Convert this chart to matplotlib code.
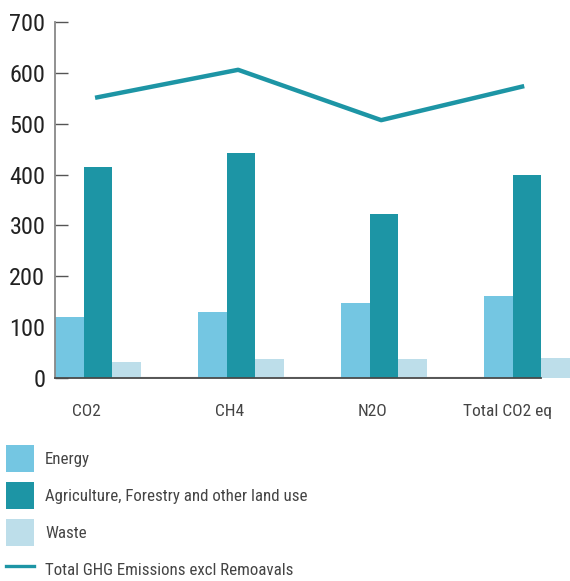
import matplotlib
matplotlib.use("Agg")
import matplotlib.pyplot as plt
from matplotlib.patches import Patch
from matplotlib.lines import Line2D
import numpy as np

plt.rcParams['font.family'] = ['Roboto Condensed', 'Liberation Sans', 'DejaVu Sans']

categories = ["CO2", "CH4", "N2O", "Total CO2 eq"]
energy = [120, 130, 147, 161]
agriculture = [415, 442, 322, 399]
waste = [31, 37, 37, 39]
total_excl_removals = [551, 606, 507, 574]
y_ticks = [0, 100, 200, 300, 400, 500, 600, 700]

c_energy = "#74c6e2"
c_agri = "#1d95a5"
c_waste = "#bddeea"

W, H = 570, 581
fig = plt.figure(figsize=(W / 100, H / 100), dpi=100)
ax = fig.add_axes([55 / W, 1 - 378 / H, 515 / W, 356 / H])

x = np.arange(len(categories))
bw = 0.2
ax.bar(x + bw * 0.5, energy, width=bw, color=c_energy, zorder=2)
ax.bar(x + bw * 1.5, agriculture, width=bw, color=c_agri, zorder=2)
ax.bar(x + bw * 2.5, waste, width=bw, color=c_waste, zorder=2)
ax.plot(x + 0.28, total_excl_removals, color=c_agri, lw=3.2, solid_capstyle='butt', zorder=3)

# baseline at zero
ax.plot([0, 3.4], [1.2, 1.2], color="#d8d8d8", lw=1.0, zorder=1, clip_on=False)
ax.plot([0, 3.4], [-0.6, -0.6], color="#4a4a4a", lw=1.3, zorder=4, clip_on=False)

ax.set_xlim(0, 3.6)
ax.set_ylim(0, 700)
ax.set_yticks(y_ticks)
ax.tick_params(axis='y', direction='in', length=9.4, width=1.0, color="#555555",
               labelsize=17.5, labelcolor="#222222", pad=7)

label_pos = x + 0.22
label_pos[-1] = 3.16
ax.set_xticks(label_pos)
ax.set_xticklabels(categories)
ax.tick_params(axis='x', length=0, labelsize=12.5, labelcolor="#444444", pad=19)

for s in ["top", "right", "bottom"]:
    ax.spines[s].set_visible(False)
ax.spines["left"].set_color("#888888")
ax.spines["left"].set_linewidth(1.3)

handles = [
    Patch(facecolor=c_energy, edgecolor='none'),
    Patch(facecolor=c_agri, edgecolor='none'),
    Patch(facecolor=c_waste, edgecolor='none'),
    Line2D([0], [0], color=c_agri, lw=2.4),
]
labels = ["Energy", "Agriculture, Forestry and other land use", "Waste",
          "Total GHG Emissions excl Remoavals"]
leg = fig.legend(handles, labels, loc="upper left",
                 bbox_to_anchor=(6 / W, 1 - 445 / H), frameon=False,
                 borderpad=0, borderaxespad=0, fontsize=12.2,
                 handlelength=1.65, handleheight=2.1, labelspacing=0.58,
                 handletextpad=0.65)
for t in leg.get_texts():
    t.set_color("#444444")

fig.savefig("out.png", dpi=100)
